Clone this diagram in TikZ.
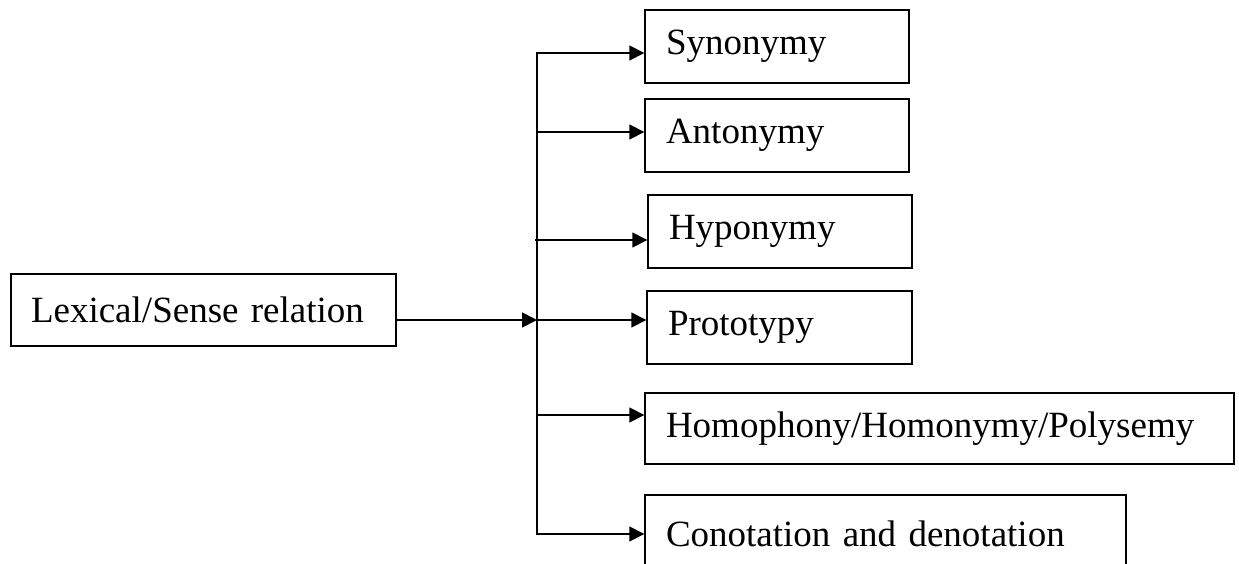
\documentclass[tikz,border=0pt]{standalone}
\usepackage{fontspec}
\setmainfont{Liberation Serif}
\usetikzlibrary{arrows.meta}
\begin{document}
\begin{tikzpicture}[x=1pt,y=-1pt,
  box/.style={draw, line width=1.4pt, rectangle, inner xsep=21pt, inner ysep=0pt,
    align=left, font=\fontsize{37}{44}\selectfont},
  arr/.style={line width=1.6pt, -{Triangle[length=15pt,width=15pt]}},
  trunk/.style={line width=1.8pt, line cap=rect}]
\useasboundingbox (0,0) rectangle (1239,563);
\node[box, text width=345pt, minimum height=72pt, inner xsep=20pt] (lex) at (203.5,310) {Lexical/Sense relation};
\node[box, text width=222pt, minimum height=73pt] (syn) at (777,46.5) {Synonymy};
\node[box, text width=222pt, minimum height=73pt] (ant) at (777,135.5) {Antonymy};
\node[box, text width=222pt, minimum height=73pt] (hyp) at (780,231.5) {Hyponymy};
\node[box, text width=223pt, minimum height=73pt] (pro) at (779.5,327.5) {Prototypy};
\node[box, text width=547pt, minimum height=71pt] (hom) at (939.5,428.5) {Homophony/Homonymy/Polysemy};
\node[box, text width=439pt, minimum height=78pt] (con) at (885.5,534) {Conotation and denotation};
% trunk coordinates
\coordinate (ttop) at (537,53);
\coordinate (tbot) at (537,534);
\coordinate (lexout) at (397,320);
\coordinate (jmain) at (537,320);
\coordinate (jant) at (537,132);
\coordinate (jhyp) at (535,240);
\coordinate (jhom) at (537,415);
\draw[trunk] (ttop) -- (tbot);
\draw[arr] (lexout) -- (jmain);
\draw[arr] (ttop) -- (ttop -| syn.west);
\draw[arr] (jant) -- (jant -| ant.west);
\draw[arr] (jhyp) -- (jhyp -| hyp.west);
\draw[arr] (jmain) -- (jmain -| pro.west);
\draw[arr] (jhom) -- (jhom -| hom.west);
\draw[arr] (tbot) -- (tbot -| con.west);
\end{tikzpicture}
\end{document}
